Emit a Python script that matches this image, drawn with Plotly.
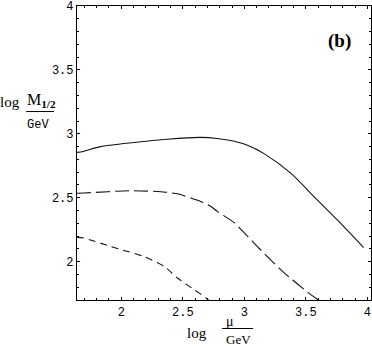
import plotly.graph_objects as go

# Solid curve
solid_x = [1.64, 1.69, 1.83, 2.10, 2.375, 2.645, 2.78, 2.91, 3.026, 3.16, 3.38, 3.57, 3.76, 3.97]
solid_y = [2.855, 2.862, 2.90, 2.932, 2.958, 2.972, 2.964, 2.944, 2.91, 2.845, 2.69, 2.505, 2.322, 2.11]

# Long-dashed curve
long_x = [1.64, 1.695, 2.076, 2.32, 2.457, 2.566, 2.645, 2.73, 2.78, 2.917, 3.135, 3.325, 3.54, 3.58, 3.60]
long_y = [2.535, 2.537, 2.555, 2.547, 2.531, 2.498, 2.471, 2.432, 2.393, 2.305, 2.09, 1.912, 1.742, 1.716, 1.70]

# Short-dashed curve
short_x = [1.64, 1.695, 1.91, 2.0, 2.185, 2.35, 2.457, 2.593, 2.69, 2.71]
short_y = [2.19, 2.185, 2.12, 2.094, 2.04, 1.963, 1.872, 1.781, 1.716, 1.70]

x_ticks = [2, 2.5, 3, 3.5, 4]
x_ticklabels = ["2", "2.5", "3", "3.5", "4"]
y_ticks = [2, 2.5, 3, 3.5, 4]
y_ticklabels = ["2", "2.5", "3", "3.5", "4"]

fig = go.Figure()
fig.add_trace(go.Scatter(x=solid_x, y=solid_y, mode="lines", line_shape="spline",
                         line=dict(color="#111", width=1.1, smoothing=0.7), showlegend=False))
fig.add_trace(go.Scatter(x=long_x, y=long_y, mode="lines", line_shape="spline",
                         line=dict(color="#111", width=1.1, dash="14px,5px", smoothing=0.6), showlegend=False))
fig.add_trace(go.Scatter(x=short_x, y=short_y, mode="lines", line_shape="spline",
                         line=dict(color="#111", width=1.1, dash="7px,5px", smoothing=0.6), showlegend=False))

tickfont = dict(family="Liberation Mono", size=12, color="black")
fig.update_xaxes(range=[1.64, 4.03], tickvals=x_ticks, ticktext=x_ticklabels,
                 showgrid=False, zeroline=False, showline=True, linecolor="black", linewidth=1.2,
                 mirror="allticks", ticks="inside", ticklen=3, tickcolor="black",
                 minor=dict(ticks="inside", dtick=0.1, tick0=0, ticklen=2, tickcolor="black"),
                 tickfont=tickfont)
fig.update_yaxes(range=[1.70, 4.0], tickvals=y_ticks, ticktext=y_ticklabels,
                 showgrid=False, zeroline=False, showline=True, linecolor="black", linewidth=1.2,
                 mirror="allticks", ticks="inside", ticklen=3, tickcolor="black",
                 minor=dict(ticks="inside", dtick=0.1, tick0=0, ticklen=2, tickcolor="black"),
                 tickfont=tickfont)

serif = "Liberation Serif"
ann = []
def A(text, x, y, size, family=serif, weight=None):
    f = dict(family=family, size=size, color="black")
    if weight:
        f["weight"] = weight
    ann.append(dict(text=text, x=x, y=y, xref="paper", yref="paper", showarrow=False,
                    xanchor="center", yanchor="middle", font=f))

# y title
A("log", -0.228, 0.672, 15)
A("M<sub><b>1/2</b></sub>", -0.122, 0.677, 16)
A("GeV", -0.133, 0.595, 12, family="Liberation Mono")
# x title
A("log", 0.408, -0.112, 15)
A("μ", 0.522, -0.073, 14)
A("GeV", 0.548, -0.135, 13)
# panel label
A("(b)", 0.893, 0.881, 19, weight="bold")

shapes = [
    dict(type="line", xref="paper", yref="paper", x0=-0.173, x1=-0.078, y0=0.641, y1=0.641,
         line=dict(color="black", width=1)),
    dict(type="line", xref="paper", yref="paper", x0=0.493, x1=0.599, y0=-0.097, y1=-0.097,
         line=dict(color="black", width=1)),
]

fig.update_layout(width=372, height=346, margin=dict(l=77, r=1, t=6, b=46),
                  plot_bgcolor="white", paper_bgcolor="white",
                  annotations=ann, shapes=shapes)
fig.write_html("out.html", config={"displayModeBar": False},
               post_script="document.body.style.margin='0';")
